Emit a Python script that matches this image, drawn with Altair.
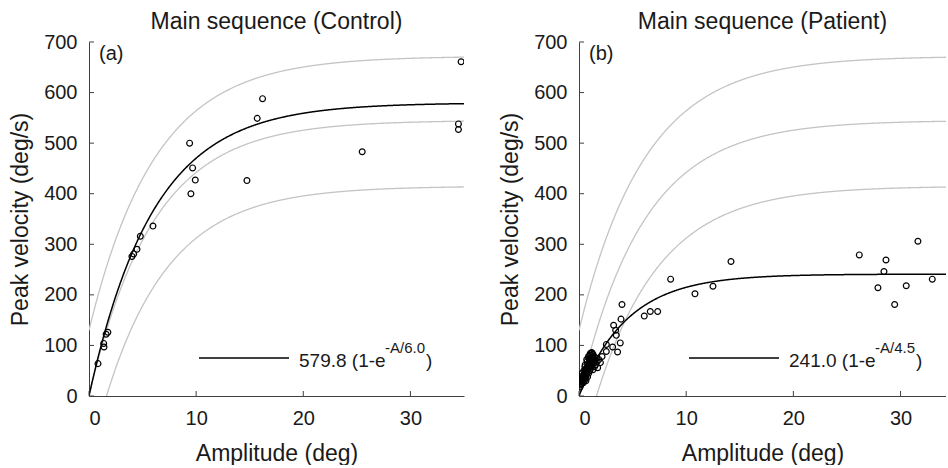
import altair as alt
import pandas as pd

# ---------------- data ----------------
ctrl_amp = [0.84, 1.37, 1.40, 1.60, 1.76, 4.01, 4.17, 4.48, 4.79, 5.97,
            9.39, 9.67, 9.51, 9.92, 14.74, 15.70, 16.20, 25.50, 34.73, 34.48, 34.48]
ctrl_vel = [64, 104, 97, 122, 126, 276, 281, 290, 316, 336,
            500, 451, 400, 427, 426, 549, 588, 483, 661, 538, 527]

pat_amp = [4.01, 3.92, 3.23, 3.42, 3.48, 3.85, 3.60, 3.14, 2.55, 2.55, 2.15,
           6.09, 6.65, 7.34, 8.55, 10.82, 12.50, 14.18,
           26.15, 28.64, 28.45, 27.89, 29.45, 30.53, 31.62, 32.96,
           # dense cluster of small saccades
           0.15, 0.20, 0.25, 0.30, 0.35, 0.40, 0.45, 0.50, 0.50, 0.55, 0.60, 0.60,
           0.65, 0.70, 0.70, 0.75, 0.80, 0.80, 0.85, 0.90, 0.90, 0.95, 1.00, 1.00,
           1.05, 1.10, 1.10, 1.15, 1.20, 1.20, 1.25, 1.30, 1.30, 1.35, 1.40, 1.45,
           1.50, 1.55, 1.60, 1.70, 1.74, 2.00, 0.30, 0.55, 0.75, 1.00, 0.40, 0.65,
           1.85, 1.20, 0.10, 0.22, 0.35, 0.48, 0.62, 0.78, 0.92, 1.08, 1.25, 1.40,
           0.28, 0.45, 0.58, 0.72, 0.88, 1.05, 1.18, 1.32, 1.00, 0.85]
pat_vel = [181, 152, 140, 130, 120, 105, 87, 97, 102, 88, 78,
           158, 167, 167, 231, 202, 217, 266,
           279, 269, 246, 214, 181, 218, 306, 231,
           22, 28, 25, 33, 30, 38, 35, 42, 30, 46, 40, 50,
           35, 55, 44, 48, 60, 38, 52, 65, 45, 58, 70, 50,
           62, 75, 55, 68, 80, 60, 72, 83, 52, 65, 78, 58,
           70, 62, 75, 68, 56, 66, 45, 58, 68, 80, 26, 30,
           72, 85, 18, 24, 40, 36, 52, 58, 74, 66, 76, 70,
           36, 50, 62, 72, 78, 84, 86, 74, 62, 56]

fit_ctrl = [579.8, 6.0]          # Vmax, tau  (legend of panel a)
fit_pat = [241.0, 4.5]           # Vmax, tau  (legend of panel b)

# normative main-sequence band (grey curves): offset + amp*(1-exp(-A/tau))
band_offset = [130, 0, -130]
band_amp = [542, 545, 545]
band_tau = [6.2, 6.0, 6.0]

y_ticks = [0, 100, 200, 300, 400, 500, 600, 700]
x_ticks = [0, 10, 20, 30]

FONT = "Liberation Sans"
INK = "#1a1a1a"
GREY = "#c4c4c4"
H = 354
W_L, XMAX_L = 375, 35.0
W_R, XMAX_R = 367, 34.24

X_TITLE = "Amplitude (deg)"
Y_TITLE = "Peak velocity (deg/s)"


def panel(amp, vel, fit, xmax, width, title, tag, main_txt, sup_txt):
    xs = alt.Scale(domain=[0, xmax], nice=False, zero=False)
    ys = alt.Scale(domain=[0, 700], nice=False)
    x_axis = alt.Axis(values=x_ticks, ticks=False, labelPadding=12, titlePadding=14,
                      format="d", grid=False)
    y_axis = alt.Axis(values=y_ticks, ticks=False, labelPadding=12, titlePadding=11,
                      format="d", grid=False)

    def X(f):
        return alt.X(f, scale=xs, axis=x_axis, title=X_TITLE)

    def Y(f):
        return alt.Y(f, scale=ys, axis=y_axis, title=Y_TITLE)

    pts = pd.DataFrame({"A": amp, "V": vel})

    layers = []
    for off, a, t in zip(band_offset, band_amp, band_tau):
        layers.append(
            alt.Chart(alt.sequence(0, xmax + 0.05, 0.05, as_="A"))
            .transform_calculate(V=f"{off} + {a}*(1-exp(-datum.A/{t}))")
            .mark_line(color=GREY, strokeWidth=1.3, clip=True)
            .encode(x=X("A:Q"), y=Y("V:Q"))
        )
    layers.append(
        alt.Chart(alt.sequence(0, xmax + 0.05, 0.05, as_="A"))
        .transform_calculate(V=f"{fit[0]}*(1-exp(-datum.A/{fit[1]}))")
        .mark_line(color="black", strokeWidth=1.5, clip=True)
        .encode(x=X("A:Q"), y=Y("V:Q"))
    )
    layers.append(
        alt.Chart(pts)
        .mark_point(shape="circle", filled=False, color="black", size=34,
                    strokeWidth=1.2, opacity=1, clip=True)
        .encode(x=X("A:Q"), y=Y("V:Q"))
    )
    # inward tick marks (MATLAB style)
    layers.append(
        alt.Chart(pd.DataFrame({"V": y_ticks}))
        .mark_rule(color="#404040", strokeWidth=1)
        .encode(y=Y("V:Q"), x=alt.value(0), x2=alt.value(5))
    )
    layers.append(
        alt.Chart(pd.DataFrame({"A": x_ticks}))
        .mark_rule(color="#404040", strokeWidth=1)
        .encode(x=X("A:Q"), y=alt.value(H), y2=alt.value(H - 5))
    )
    # panel title
    layers.append(
        alt.Chart(pd.DataFrame({"t": [title]}))
        .mark_text(font=FONT, fontSize=23, color=INK, align="center", baseline="alphabetic")
        .encode(text="t:N", x=alt.value(width / 2), y=alt.value(-13.5))
    )
    # panel tag
    layers.append(
        alt.Chart(pd.DataFrame({"t": [tag]}))
        .mark_text(font=FONT, fontSize=20, color=INK, align="left", baseline="alphabetic")
        .encode(text="t:N", x=alt.value(10), y=alt.value(18))
    )
    # legend
    layers.append(
        alt.Chart(pd.DataFrame({"t": [1]}))
        .mark_rule(color="black", strokeWidth=1.5)
        .encode(x=alt.value(110), x2=alt.value(200), y=alt.value(316))
    )
    layers.append(
        alt.Chart(pd.DataFrame({"t": [main_txt]}))
        .mark_text(font=FONT, fontSize=19, color=INK, align="left", baseline="alphabetic")
        .encode(text="t:N", x=alt.value(210), y=alt.value(325))
    )
    layers.append(
        alt.Chart(pd.DataFrame({"t": [sup_txt]}))
        .mark_text(font=FONT, fontSize=15, color=INK, align="left", baseline="alphabetic")
        .encode(text="t:N", x=alt.value(296), y=alt.value(311))
    )
    layers.append(
        alt.Chart(pd.DataFrame({"t": [")"]}))
        .mark_text(font=FONT, fontSize=19, color=INK, align="left", baseline="alphabetic")
        .encode(text="t:N", x=alt.value(337), y=alt.value(325))
    )

    return alt.layer(*layers).properties(width=width, height=H)


left = panel(ctrl_amp, ctrl_vel, fit_ctrl, XMAX_L, W_L, "Main sequence (Control)", "(a)",
             f"{fit_ctrl[0]:.1f} (1-e", f"-A/{fit_ctrl[1]:.1f}")
right = panel(pat_amp, pat_vel, fit_pat, XMAX_R, W_R, "Main sequence (Patient)", "(b)",
              f"{fit_pat[0]:.1f} (1-e", f"-A/{fit_pat[1]:.1f}")

chart = (
    alt.hconcat(left, right, spacing=115, bounds="flush")
    .properties(padding={"left": 9, "top": 10, "right": 0, "bottom": 0}, background="white")
    .configure_view(stroke=None)
    .configure_axis(
        domainColor="#404040", domainWidth=1,
        labelFont=FONT, labelFontSize=20, labelColor=INK,
        titleFont=FONT, titleFontSize=23, titleFontWeight="normal", titleColor=INK,
    )
)

chart.save("out.html", embed_options={"renderer": "svg", "actions": False})
